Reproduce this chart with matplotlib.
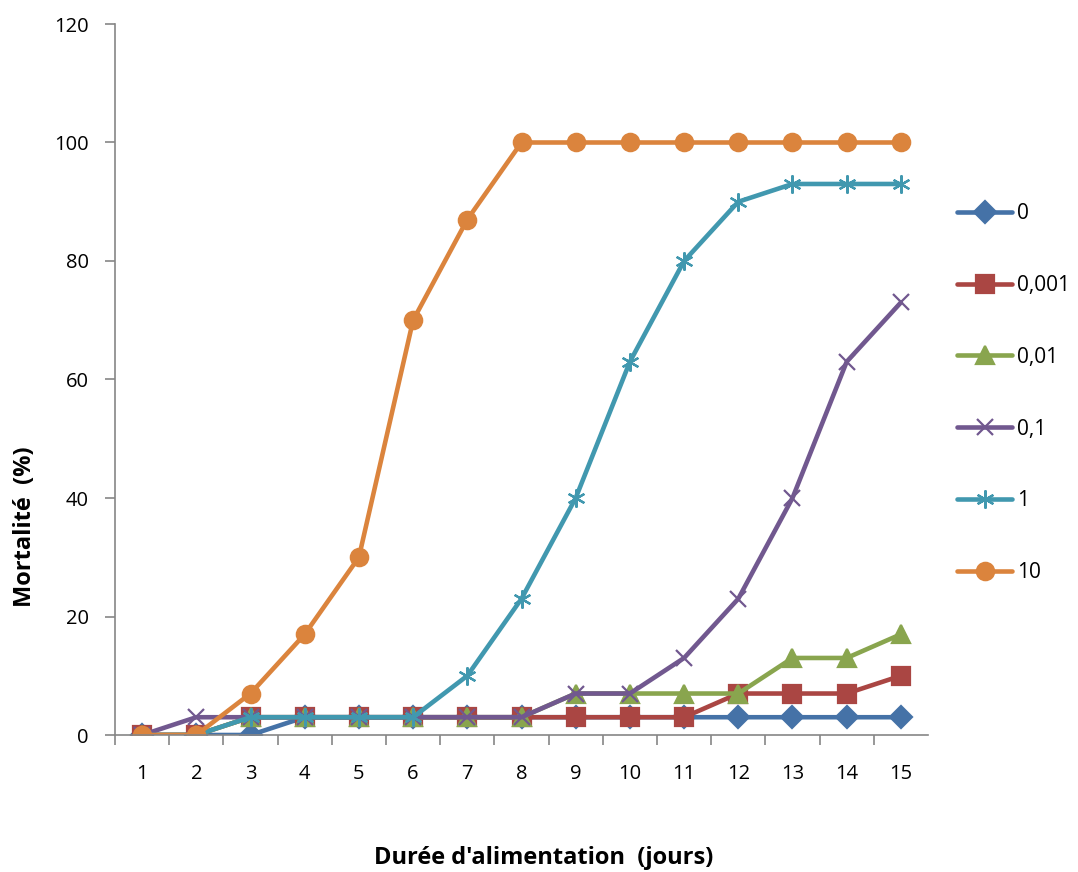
import matplotlib
matplotlib.use("Agg")
import matplotlib.pyplot as plt

days = list(range(1, 16))
doses = ["0", "0,001", "0,01", "0,1", "1", "10"]

mort_0 = [0, 0, 0, 3, 3, 3, 3, 3, 3, 3, 3, 3, 3, 3, 3]
mort_0001 = [0, 0, 3, 3, 3, 3, 3, 3, 3, 3, 3, 7, 7, 7, 10]
mort_001 = [0, 0, 3, 3, 3, 3, 3, 3, 7, 7, 7, 7, 13, 13, 17]
mort_01 = [0, 3, 3, 3, 3, 3, 3, 3, 7, 7, 13, 23, 40, 63, 73]
mort_1 = [0, 0, 3, 3, 3, 3, 10, 23, 40, 63, 80, 90, 93, 93, 93]
mort_10 = [0, 0, 7, 17, 30, 70, 87, 100, 100, 100, 100, 100, 100, 100, 100]

series = [mort_0, mort_0001, mort_001, mort_01, mort_1, mort_10]
colors = ["#4572A7", "#AA4643", "#89A54E", "#71588F", "#4198AF", "#DB843D"]
markers = ["D", "s", "^", "x", (6, 2, 0), "o"]
msizes = [11.5, 13, 13, 12, 13, 12.5]

plt.rcParams["font.family"] = ["Open Sans", "DejaVu Sans"]

fig = plt.figure(figsize=(10.78, 8.72), dpi=100)
ax = fig.add_axes([115 / 1078, (872 - 735) / 872, (928 - 115) / 1078, (735 - 24) / 872])

for vals, lab, c, m, ms in zip(series, doses, colors, markers, msizes):
    ax.plot(days, vals, color=c, lw=3.3, marker=m, markersize=ms,
            markeredgecolor=c, markerfacecolor=c, markeredgewidth=1.6,
            label=lab, solid_capstyle="round", solid_joinstyle="round")

ax.set_xlim(0.5, 15.5)
ax.set_ylim(0, 120)
ax.set_yticks(range(0, 121, 20))
ax.set_xticks(days)
ax.set_xticks([d + 0.5 for d in range(0, 15)], minor=True)
ax.tick_params(axis="x", which="major", length=0, pad=21, labelsize=14.5)
ax.tick_params(axis="x", which="minor", length=7, color="#868686", width=1.2, direction="out")
ax.tick_params(axis="y", length=7, color="#868686", width=1.2, labelsize=14.5, pad=12)

for s in ["top", "right"]:
    ax.spines[s].set_visible(False)
for s in ["left", "bottom"]:
    ax.spines[s].set_color("#868686")
    ax.spines[s].set_linewidth(1.2)

fig.text(25 / 1078, 1 - 527 / 872, "Mortalité  (%)", rotation=90, ha="center",
         va="center", fontsize=17, fontweight="bold")
fig.text(544 / 1078, 1 - 858 / 872, "Durée d'alimentation  (jours)", ha="center",
         va="center", fontsize=17, fontweight="bold")

leg = ax.legend(loc="upper left", bbox_to_anchor=(957 / 1078, 1 - 203 / 872),
                bbox_transform=fig.transFigure, frameon=False, fontsize=15,
                labelspacing=2.44, handlelength=2.64, handletextpad=0.25,
                borderaxespad=0, borderpad=0)

fig.savefig("out.png", dpi=100)
